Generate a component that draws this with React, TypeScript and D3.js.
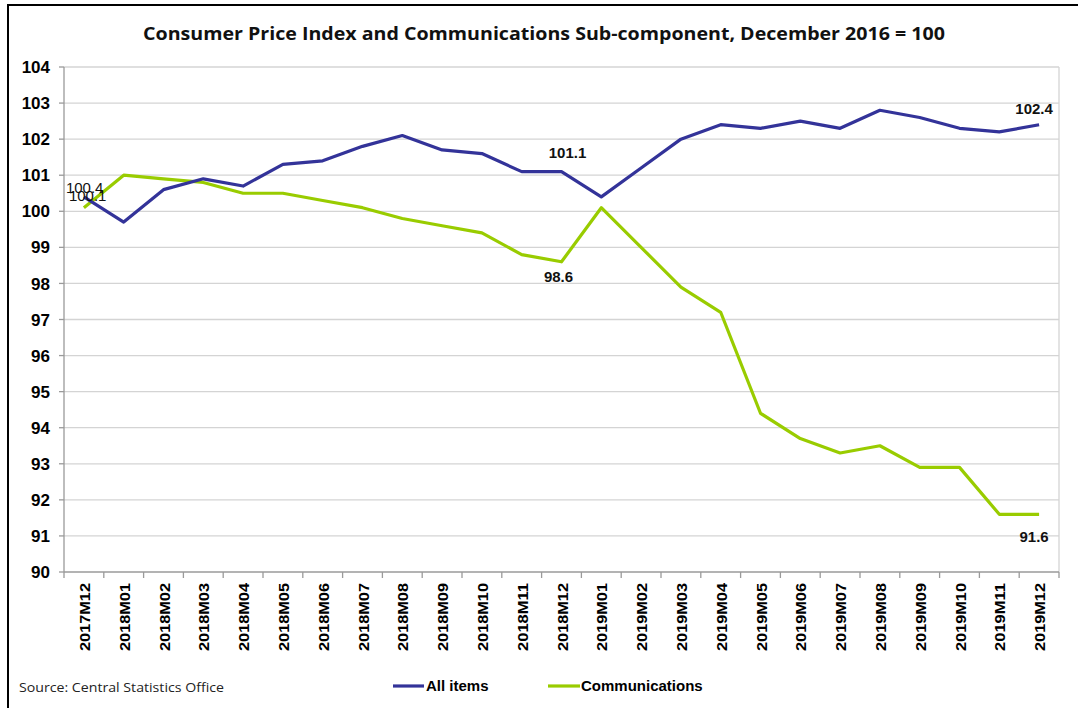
import React from "react";
import * as d3 from "d3";

const months = [
  "2017M12", "2018M01", "2018M02", "2018M03", "2018M04", "2018M05", "2018M06",
  "2018M07", "2018M08", "2018M09", "2018M10", "2018M11", "2018M12", "2019M01",
  "2019M02", "2019M03", "2019M04", "2019M05", "2019M06", "2019M07", "2019M08",
  "2019M09", "2019M10", "2019M11", "2019M12",
];

const allItems = [
  100.4, 99.7, 100.6, 100.9, 100.7, 101.3, 101.4, 101.8, 102.1, 101.7, 101.6,
  101.1, 101.1, 100.4, 101.2, 102.0, 102.4, 102.3, 102.5, 102.3, 102.8, 102.6,
  102.3, 102.2, 102.4,
];

const communications = [
  100.1, 101.0, 100.9, 100.8, 100.5, 100.5, 100.3, 100.1, 99.8, 99.6, 99.4,
  98.8, 98.6, 100.1, 99.0, 97.9, 97.2, 94.4, 93.7, 93.3, 93.5, 92.9, 92.9,
  91.6, 91.6,
];

const yTicks = [90, 91, 92, 93, 94, 95, 96, 97, 98, 99, 100, 101, 102, 103, 104];

const BLUE = "#333399";
const GREEN = "#99cc00";
const ARIAL = "'Liberation Sans', Arial, sans-serif";

// data labels: series, index, dx, dy, bold, anchor
const labels: [number[], number, number, number, boolean, string][] = [
  [allItems, 0, -18, -4, false, "start"],
  [communications, 0, -15, -7, false, "start"],
  [allItems, 12, 6, -14, true, "middle"],
  [communications, 12, -3, 20, true, "middle"],
  [allItems, 24, -5, -11, true, "middle"],
  [communications, 24, -5, 28, true, "middle"],
];

const App = () => {
  const width = 1078;
  const height = 708;
  const left = 64;
  const right = 1059;
  const top = 67;
  const bottom = 572;

  const x = d3.scaleBand().domain(months).range([left, right]);
  const y = d3.scaleLinear().domain([90, 104]).range([bottom, top]);
  const cx = (m: string) => (x(m) as number) + x.bandwidth() / 2;

  const line = d3
    .line<number>()
    .x((_, i) => cx(months[i]))
    .y((d) => y(d));

  const tickXs = months.map((m) => x(m) as number).concat([right]);

  return (
    <svg
      width={width}
      height={height}
      style={{ position: "absolute", left: 0, top: 0, background: "#fff" }}
    >
      <rect x={8} y={5} width={1090} height={720} fill="#fff" stroke="#000" strokeWidth={2} />

      <text
        x={143}
        y={40}
        textLength={802}
        lengthAdjust="spacingAndGlyphs"
        fontFamily="'Open Sans', 'Noto Sans', sans-serif"
        fontWeight="bold"
        fontSize={17}
        fill="#111"
      >
        Consumer Price Index and Communications Sub-component, December 2016 = 100
      </text>

      {/* gridlines */}
      {yTicks.slice(1).map((t) => (
        <line key={t} x1={left} x2={right} y1={y(t)} y2={y(t)} stroke="#d4d4d4" strokeWidth={1.3} />
      ))}
      <line x1={right} x2={right} y1={top} y2={bottom} stroke="#d4d4d4" strokeWidth={1.3} />

      {/* axes */}
      <line x1={left} x2={left} y1={top} y2={bottom} stroke="#9a9a9a" strokeWidth={1.3} />
      <line x1={left} x2={right} y1={bottom} y2={bottom} stroke="#9a9a9a" strokeWidth={1.3} />
      {yTicks.map((t) => (
        <g key={t}>
          <line x1={left - 5} x2={left} y1={y(t)} y2={y(t)} stroke="#9a9a9a" strokeWidth={1.3} />
          <text
            x={50}
            y={y(t)}
            dy="0.36em"
            textAnchor="end"
            fontFamily={ARIAL}
            fontWeight="bold"
            fontSize={17}
            fill="#000"
          >
            {t}
          </text>
        </g>
      ))}
      {tickXs.map((tx, i) => (
        <line key={i} x1={tx} x2={tx} y1={bottom} y2={bottom + 6} stroke="#9a9a9a" strokeWidth={1.3} />
      ))}
      {months.map((m) => (
        <text
          key={m}
          transform={`translate(${cx(m) + 6},583) rotate(-90)`}
          textAnchor="end"
          textLength={68}
          lengthAdjust="spacingAndGlyphs"
          fontFamily={ARIAL}
          fontWeight="bold"
          fontSize={15}
          fill="#000"
        >
          {m}
        </text>
      ))}

      {/* series */}
      <path d={line(communications) as string} fill="none" stroke={GREEN} strokeWidth={3.2} strokeLinejoin="round" />
      <path d={line(allItems) as string} fill="none" stroke={BLUE} strokeWidth={3.2} strokeLinejoin="round" />

      {labels.map(([s, i, dx, dy, bold, anchor], k) => (
        <text
          key={k}
          x={cx(months[i]) + dx}
          y={y(s[i]) + dy}
          textAnchor={anchor}
          fontFamily={ARIAL}
          fontWeight={bold ? "bold" : "normal"}
          fontSize={15}
          fill="#111"
        >
          {s[i].toFixed(1)}
        </text>
      ))}

      {/* source and legend */}
      <text
        x={19}
        y={692}
        textLength={205}
        lengthAdjust="spacingAndGlyphs"
        fontFamily="'Open Sans', 'Noto Sans', sans-serif"
        fontSize={13}
        fill="#222"
      >
        Source: Central Statistics Office
      </text>
      <line x1={393} x2={424} y1={686} y2={686} stroke={BLUE} strokeWidth={3.2} />
      <text x={426} y={691} fontFamily={ARIAL} fontWeight="bold" fontSize={15} fill="#000">
        All items
      </text>
      <line x1={548} x2={580} y1={686} y2={686} stroke={GREEN} strokeWidth={3.2} />
      <text x={581} y={691} fontFamily={ARIAL} fontWeight="bold" fontSize={15} fill="#000">
        Communications
      </text>
    </svg>
  );
};

export default App;
